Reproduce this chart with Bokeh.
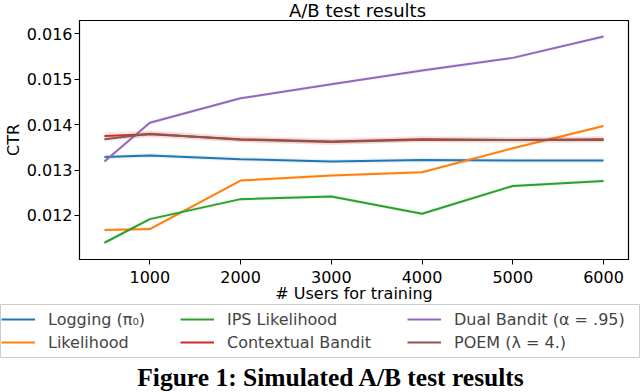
from bokeh.plotting import figure
from bokeh.models import Legend, LegendItem, FixedTicker, Range1d, Div
from bokeh.embed import file_html
from bokeh.resources import INLINE

users = [500, 1000, 2000, 3000, 4000, 5000, 6000]
logging = [0.01329, 0.01332, 0.01324, 0.01319, 0.01322, 0.01321, 0.01321]
likelihood = [0.01168, 0.01170, 0.01277, 0.01288, 0.01295, 0.01348, 0.01397]
ips = [0.01140, 0.01192, 0.01236, 0.01242, 0.01204, 0.01265, 0.01276]
contextual = [0.01375, 0.01379, 0.01368, 0.01363, 0.01368, 0.01366, 0.01368]
dual = [0.01319, 0.01404, 0.01458, 0.01489, 0.01519, 0.01547, 0.01594]
poem = [0.01368, 0.01380, 0.01367, 0.01362, 0.01367, 0.01366, 0.01366]

err_logging = [0.00005, 0.00005, 0.00005, 0.00005, 0.00005, 0.00005, 0.00005]
err_likelihood = [0.00004, 0.00004, 0.00004, 0.00004, 0.00004, 0.00004, 0.00004]
err_ips = [0.00004, 0.00004, 0.00004, 0.00004, 0.00004, 0.00004, 0.00004]
err_contextual = [0.00008, 0.00008, 0.00007, 0.00007, 0.00007, 0.00007, 0.00007]
err_dual = [0.00004, 0.00004, 0.00004, 0.00004, 0.00004, 0.00004, 0.00004]
err_poem = [0.00006, 0.00006, 0.00006, 0.00006, 0.00006, 0.00006, 0.00006]

labels = ["Logging (π₀)", "Likelihood", "IPS Likelihood",
          "Contextual Bandit", "Dual Bandit (α = .95)", "POEM (λ = 4.)"]
colors = ["#1f77b4", "#ff7f0e", "#2ca02c", "#d62728", "#9467bd", "#8c564b"]
series = [logging, likelihood, ips, contextual, dual, poem]
errors = [err_logging, err_likelihood, err_ips, err_contextual, err_dual, err_poem]

x_ticks = [1000, 2000, 3000, 4000, 5000, 6000]
y_ticks = [0.012, 0.013, 0.014, 0.015, 0.016]

title_text = "A/B test results"
caption_text = "Figure 1: Simulated A/B test results"

FONT = "DejaVu Sans"

# ---- main chart ----
p = figure(frame_width=549, frame_height=239, output_backend="svg", toolbar_location=None,
           x_range=Range1d(225, 6275), y_range=Range1d(0.011031, 0.016293),
           min_border_left=78, min_border_right=13, min_border_top=20, min_border_bottom=45)
p.styles = {"position": "absolute", "left": "0px", "top": "0px"}

p.xgrid.visible = False
p.ygrid.visible = False
p.outline_line_color = "black"
p.outline_line_width = 1.2

for ax in (p.xaxis[0], p.yaxis[0]):
    ax.major_label_text_font = FONT
    ax.major_label_text_font_size = "16px"
    ax.axis_label_text_font = FONT
    ax.axis_label_text_font_size = "16px"
    ax.axis_label_text_font_style = "normal"
    ax.minor_tick_line_color = None
    ax.major_tick_in = 0
    ax.major_tick_out = 5
    ax.axis_line_color = "black"
    ax.major_label_text_color = "black"
    ax.axis_label_text_color = "black"

p.xaxis[0].ticker = FixedTicker(ticks=x_ticks)
p.yaxis[0].ticker = FixedTicker(ticks=y_ticks)
p.xaxis[0].axis_label = "# Users for training"
p.yaxis[0].axis_label = "CTR"
p.xaxis[0].major_label_standoff = 6
p.yaxis[0].major_label_standoff = 2
p.xaxis[0].axis_label_standoff = -2
p.yaxis[0].axis_label_standoff = 1

for col, ys, es in zip(colors, series, errors):
    lo = [y - e for y, e in zip(ys, es)]
    hi = [y + e for y, e in zip(ys, es)]
    p.varea(x=users, y1=lo, y2=hi, fill_color=col, fill_alpha=0.1)
    p.line(users, ys, line_color=col, line_width=2)

title_div = Div(text=title_text, width=549, height=20,
                styles={"position": "absolute", "left": "78px", "top": "0px",
                        "font-family": "DejaVu Sans", "font-size": "18px",
                        "line-height": "11px", "text-align": "center", "color": "black"})

# ---- legend box (series drawn off-view, only their keys show) ----
q = figure(frame_width=639, frame_height=54, output_backend="svg", toolbar_location=None,
           x_axis_type=None, y_axis_type=None,
           x_range=Range1d(0, 1), y_range=Range1d(0, 1),
           min_border_left=0, min_border_right=1, min_border_top=0, min_border_bottom=0)
q.styles = {"position": "absolute", "left": "0px", "top": "304px"}
q.xgrid.visible = False
q.ygrid.visible = False
q.outline_line_color = "#cccccc"
q.outline_line_width = 1

key_items = []
for lab, col, ys in zip(labels, colors, series):
    r = q.line(users, ys, line_color=col, line_width=2)
    key_items.append(LegendItem(label=lab, renderers=[r]))

for i, xpos in enumerate([1, 180, 407]):
    lg = Legend(items=key_items[2 * i:2 * i + 2], orientation="vertical",
                label_text_font=FONT, label_text_font_size="16px",
                glyph_width=34, glyph_height=20, label_standoff=13,
                label_height=20, spacing=3, padding=5, margin=0,
                border_line_color=None, background_fill_alpha=0,
                location=(xpos, 6))
    q.add_layout(lg, "center")

caption_div = Div(text=caption_text, width=629, height=29,
                  styles={"position": "absolute", "left": "11px", "top": "363px",
                          "font-family": "Liberation Serif", "font-size": "25.5px",
                          "font-weight": "bold", "line-height": "20px",
                          "text-align": "center", "color": "black"})

open("out.html", "w").write(file_html([p, title_div, q, caption_div], INLINE))
